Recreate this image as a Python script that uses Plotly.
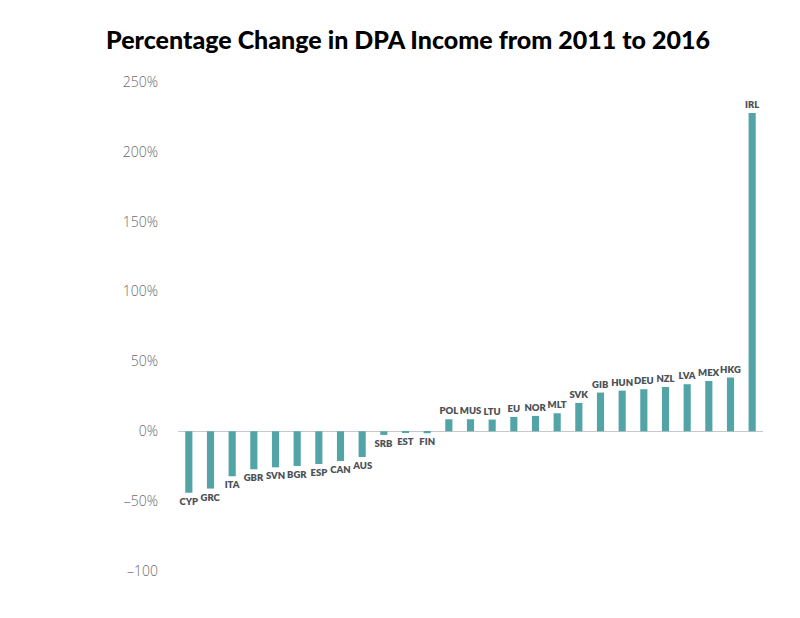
import plotly.graph_objects as go

countries = ["CYP", "GRC", "ITA", "GBR", "SVN", "BGR", "ESP", "CAN", "AUS", "SRB", "EST", "FIN",
             "POL", "MUS", "LTU", "EU", "NOR", "MLT", "SVK", "GIB", "HUN", "DEU", "NZL", "LVA",
             "MEX", "HKG", "IRL"]
pct_change = [-44.0, -41.0, -32.2, -27.2, -25.8, -24.8, -23.4, -21.3, -18.4, -2.6, -1.2, -1.4,
              8.6, 8.6, 8.4, 10.3, 11.0, 12.9, 20.3, 27.7, 29.1, 30.1, 31.7, 33.7,
              36.0, 38.5, 227.8]
tick_vals = [-100, -50, 0, 50, 100, 150, 200, 250]
tick_text = ["–100", "–50%", "0%", "50%", "100%", "150%", "200%", "250%"]

fig = go.Figure()
fig.add_trace(go.Bar(
    x=countries,
    y=pct_change,
    marker=dict(color="#53a4a6", line=dict(width=0)),
    text=countries,
    textposition="outside",
    textangle=0,
    constraintext="none",
    cliponaxis=False,
    textfont=dict(family="Lato", size=9.5, color="#4b5157", weight=800),
    hoverinfo="x+y",
))

fig.update_layout(
    width=800,
    height=618,
    paper_bgcolor="white",
    plot_bgcolor="white",
    margin=dict(l=170, r=45, t=74, b=55, autoexpand=False),
    bargap=0.67,
    showlegend=False,
    title=dict(
        text="Percentage Change in DPA Income from 2011 to 2016",
        x=0.5,
        xanchor="center",
        y=0.948,
        yanchor="middle",
        font=dict(family="Lato", size=25, color="#000000", weight=900),
    ),
    xaxis=dict(
        showticklabels=False,
        showgrid=False,
        zeroline=False,
        showline=False,
        ticks="",
        automargin=False,
    ),
    yaxis=dict(
        range=[-100, 250],
        tickvals=tick_vals,
        ticktext=tick_text,
        showgrid=False,
        zeroline=True,
        zerolinecolor="#c8c8c8",
        zerolinewidth=1,
        showline=False,
        ticks="",
        automargin=False,
        ticklabelstandoff=19,
        tickfont=dict(family="Open Sans", size=14, color="#6a6a6a", weight=300),
    ),
)

fig.write_html("out.html")
